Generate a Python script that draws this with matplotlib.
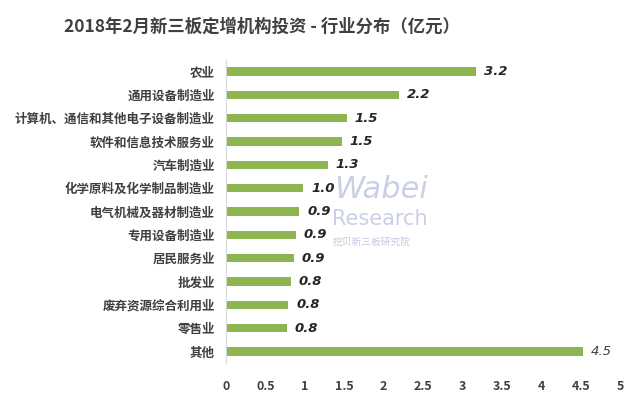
import matplotlib
matplotlib.use('Agg')
import matplotlib.pyplot as plt
import numpy as np

plt.rcParams['font.family'] = ['Noto Sans CJK SC', 'DejaVu Sans']

# 行业分类与金额（亿元）
industries = ['农业', '通用设备制造业', '计算机、通信和其他电子设备制造业', '软件和信息技术服务业',
              '汽车制造业', '化学原料及化学制品制造业', '电气机械及器材制造业', '专用设备制造业',
              '居民服务业', '批发业', '废弃资源综合利用业', '零售业', '其他']
amounts = [3.17, 2.2, 1.53, 1.47, 1.29, 0.98, 0.93, 0.89, 0.86, 0.82, 0.79, 0.77, 4.53]
xticks = [0, 0.5, 1, 1.5, 2, 2.5, 3, 3.5, 4, 4.5, 5]
xtick_labels = ['0', '0.5', '1', '1.5', '2', '2.5', '3', '3.5', '4', '4.5', '5']

fig = plt.figure(figsize=(6.4, 3.99), dpi=100)
ax = fig.add_axes([0.353, 0.09, 0.616, 0.76])

y = np.arange(len(industries))
ax.barh(y, amounts, height=0.36, color='#8db552')
ax.set_ylim(len(industries) - 0.5, -0.5)
ax.set_xlim(0, 5)

for i, v in enumerate(amounts):
    if i == len(amounts) - 1:
        ax.text(v + 0.1, i, f'{v:.1f}', va='center', ha='left', fontsize=9.5,
                style='italic', color='#404040', family='DejaVu Sans')
    else:
        ax.text(v + 0.1, i, f'{v:.1f}', va='center', ha='left', fontsize=9.5,
                style='italic', fontweight='bold', color='#262626', family='DejaVu Sans')

ax.set_yticks(y)
ax.set_yticklabels(industries, fontsize=9, fontweight='bold', color='#404040')
ax.set_xticks(xticks)
ax.set_xticklabels(xtick_labels, fontsize=9, fontweight='bold', color='#404040')
ax.tick_params(axis='both', length=0)
ax.tick_params(axis='x', pad=12)
ax.tick_params(axis='y', pad=8)

for s in ['top', 'right', 'bottom']:
    ax.spines[s].set_visible(False)
ax.spines['left'].set_color('#d9d9d9')

# 水印
fig.text(0.522, 0.525, 'Wabei', fontsize=22, style='italic', color='#b8c0e0', alpha=0.75,
         family='DejaVu Sans', ha='left', va='center', zorder=0)
fig.text(0.518, 0.45, 'Research', fontsize=15, color='#b8c0e0', alpha=0.75,
         family='DejaVu Sans', ha='left', va='center', zorder=0)
fig.text(0.52, 0.393, '挖贝新三板研究院', fontsize=7, color='#b8c0e0', alpha=0.85,
         ha='left', va='center', zorder=0)

fig.suptitle('2018年2月新三板定增机构投资 - 行业分布（亿元）', x=0.41, y=0.955,
             fontsize=12.5, fontweight='bold', color='#404040')

fig.savefig('out.png', dpi=100)
